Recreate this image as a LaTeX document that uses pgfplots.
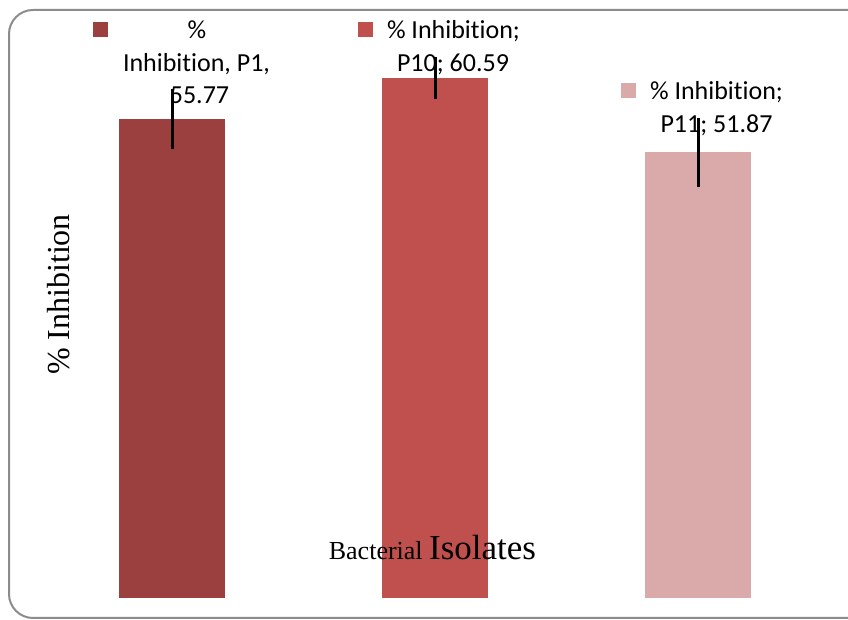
\documentclass[border=0pt]{standalone}
\usepackage{pgfplots}
\pgfplotsset{compat=1.18}
\usepackage{fontspec}
\setmainfont{Liberation Serif}
\newfontfamily\carlitofont[Ligatures=NoCommon]{Carlito}
\definecolor{pone}{RGB}{156,64,63}
\definecolor{pten}{RGB}{192,80,77}
\definecolor{peleven}{RGB}{218,169,169}
\definecolor{framegray}{RGB}{140,140,140}
\newcommand\PX[2]{({#1*0.5pt},{(620-#2)*0.5pt})}
\begin{document}
\begin{tikzpicture}
\useasboundingbox (0,0) rectangle (424pt,310pt);
\draw[framegray, line width=1pt, rounded corners=12pt] \PX{9}{618} rectangle \PX{900}{10};
\begin{axis}[
  at={(0,0)}, anchor=south west,
  scale only axis, width=424pt, height=310pt,
  xmin=-0.654, xmax=2.570, ymin=-2.561, ymax=69.62,
  axis line style={draw=none}, xtick=\empty, ytick=\empty,
  xlabel={\fontsize{13}{15}\selectfont Bacterial \fontsize{17.5}{20}\selectfont Isolates},
  ylabel={\fontsize{16}{19}\selectfont \% Inhibition},
  every axis x label/.style={at={(rel axis cs:0.510,0.1)}, anchor=base, yshift=-1pt},
  every axis y label/.style={at={(rel axis cs:0.0696,0.525)}, rotate=90, anchor=center},
  error bars/error bar style={line width=1.5pt, black},
]
\addplot[ybar, bar shift=0pt, bar width=53pt, fill=pone, draw=none,
  error bars/.cd, y dir=both, y explicit, error mark=none]
  coordinates {(0,55.77) +- (0,3.5)};
\addplot[ybar, bar shift=0pt, bar width=53pt, fill=pten, draw=none,
  error bars/.cd, y dir=both, y explicit, error mark=none]
  coordinates {(1,60.59) +- (0,2.45)};
\addplot[ybar, bar shift=0pt, bar width=53pt, fill=peleven, draw=none,
  error bars/.cd, y dir=both, y explicit, error mark=none]
  coordinates {(2,51.87) +- (0,4.05)};
\end{axis}
\fill[pone] \PX{93}{22} rectangle \PX{108}{37};
\fill[pten] \PX{358}{22} rectangle \PX{373}{37};
\fill[peleven] \PX{621}{83} rectangle \PX{636}{98};
\begin{scope}[every node/.style={anchor=base, inner sep=0pt, font=\carlitofont\fontsize{13}{16}\selectfont}]
\node at \PX{197}{39} {\%};
\node at \PX{196.5}{71.5} {Inhibition, P1,};
\node at \PX{199.5}{104} {55.77};
\node at \PX{453.5}{39} {\% Inhibition;};
\node at \PX{453}{71.5} {P10; 60.59};
\node at \PX{716.5}{100} {\% Inhibition;};
\node at \PX{716.5}{133} {P11; 51.87};
\end{scope}
\end{tikzpicture}
\end{document}
